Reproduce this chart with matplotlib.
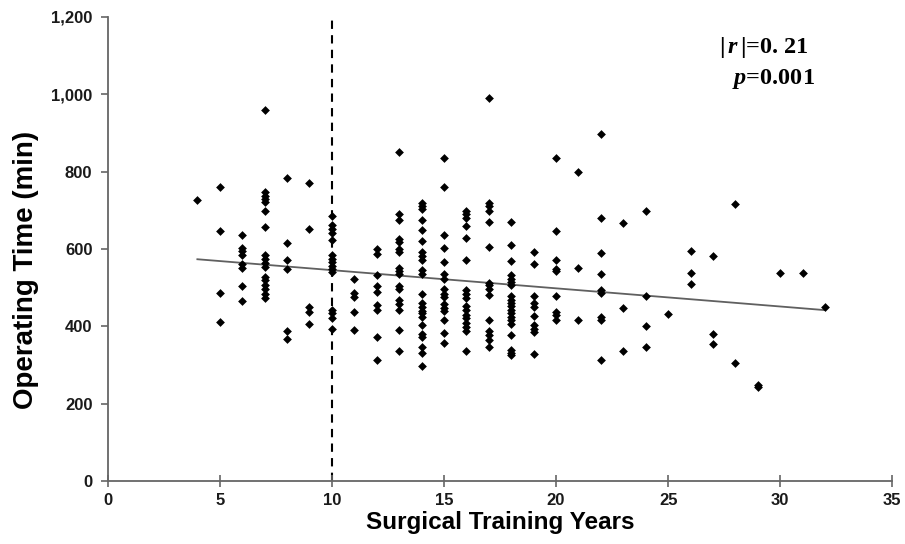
import numpy as np
import matplotlib
matplotlib.use('Agg')
import matplotlib.pyplot as plt
from matplotlib.ticker import StrMethodFormatter

plt.rcParams['font.family'] = ['Liberation Sans', 'DejaVu Sans']
plt.rcParams['mathtext.fontset'] = 'custom'
plt.rcParams['mathtext.rm'] = 'Liberation Serif:bold'
plt.rcParams['mathtext.it'] = 'Liberation Serif:italic:bold'

# operating times (min) for each training year
years = [4, 5, 6, 7, 8, 9, 10, 11, 12, 13, 14, 15, 16, 17, 18, 19, 20,
         21, 22, 23, 24, 25, 26, 27, 28, 29, 30, 31, 32]
times = [
    [727],
    [760, 646, 486, 410],
    [637, 603, 594, 583, 560, 550, 503, 465],
    [960, 747, 738, 730, 721, 697, 656, 583, 575, 563, 553, 527, 519, 506, 495, 484, 474],
    [783, 616, 570, 549, 388, 366],
    [771, 652, 450, 437, 407],
    [686, 661, 652, 641, 622, 583, 575, 566, 557, 549, 540, 441, 433, 420, 394],
    [523, 486, 476, 437, 390],
    [600, 588, 532, 504, 489, 456, 443, 372, 312],
    [850, 691, 675, 626, 618, 600, 592, 550, 542, 536, 504, 495, 467, 457, 443, 391, 336],
    [718, 710, 704, 675, 650, 620, 592, 581, 570, 545, 536, 483, 459, 450, 440, 433,
     424, 402, 381, 372, 347, 330, 297],
    [835, 761, 637, 602, 566, 536, 523, 497, 484, 476, 457, 448, 440, 415, 383, 357],
    [698, 689, 680, 658, 628, 570, 493, 483, 474, 452, 441, 430, 420, 408, 398, 388, 336],
    [991, 718, 710, 699, 670, 605, 512, 506, 497, 482, 417, 388, 377, 364, 347],
    [670, 609, 568, 533, 523, 514, 506, 477, 469, 460, 452, 443, 434, 424, 415, 407,
     377, 338, 330, 325],
    [592, 562, 477, 459, 450, 426, 403, 394, 385, 327],
    [835, 646, 572, 549, 543, 477, 437, 428, 417],
    [798, 551, 417],
    [898, 680, 590, 534, 493, 486, 424, 417, 312],
    [668, 447, 336],
    [697, 477, 401, 347],
    [431],
    [595, 538, 508],
    [581, 379, 353],
    [717, 306],
    [243, 248],
    [538],
    [538],
    [450],
]

# trend line
fit_intercept = 592
fit_slope = -4.7
cutoff_year = 10

x = np.concatenate([[yr] * len(t) for yr, t in zip(years, times)])
y = np.concatenate(times)

fig = plt.figure(figsize=(9.05, 5.44), dpi=100)
ax = fig.add_axes([0.119, 0.116, 0.867, 0.853])

ax.scatter(x, y, marker='D', s=20, color='black', zorder=3, linewidths=0)

xf = np.array([min(years), max(years)])
ax.plot(xf, fit_intercept + fit_slope * xf, color='#606060', lw=1.3, zorder=2)

ax.plot([cutoff_year, cutoff_year], [0, 1200], color='black', lw=1.5,
        ls=(0, (4, 3)), zorder=1)

ax.set_xlim(0, 35)
ax.set_ylim(0, 1200)
ax.set_xticks(range(0, 36, 5))
ax.set_yticks(range(0, 1201, 200))
ax.yaxis.set_major_formatter(StrMethodFormatter('{x:,.0f}'))

for s in ['top', 'right']:
    ax.spines[s].set_visible(False)
for s in ['left', 'bottom']:
    ax.spines[s].set_color('#666666')
    ax.spines[s].set_linewidth(1.3)

ax.tick_params(axis='x', direction='inout', length=8, width=1.2, color='#666666',
               labelsize=12, pad=5)
ax.tick_params(axis='y', direction='out', length=5, width=1.2, color='#666666',
               labelsize=12, pad=6)
for lab in ax.get_xticklabels() + ax.get_yticklabels():
    lab.set_fontweight('bold')
    lab.set_color('#1a1a1a')

ax.set_xlabel('Surgical Training Years', fontsize=17.5, fontweight='bold', labelpad=2)
ax.set_ylabel('Operating Time (min)', fontsize=20, fontweight='bold')
ax.yaxis.set_label_coords(-0.088, 0.455)

ax.text(0.893, 0.935, r'$|\,r\,|$=0. 21', transform=ax.transAxes, ha='right',
        va='center', fontsize=17.5, family='Liberation Serif', fontweight='bold')
ax.text(0.902, 0.866, r'$p$=0.001', transform=ax.transAxes, ha='right', va='center',
        fontsize=17.5, family='Liberation Serif', fontweight='bold')

fig.savefig('out.png', dpi=100)
